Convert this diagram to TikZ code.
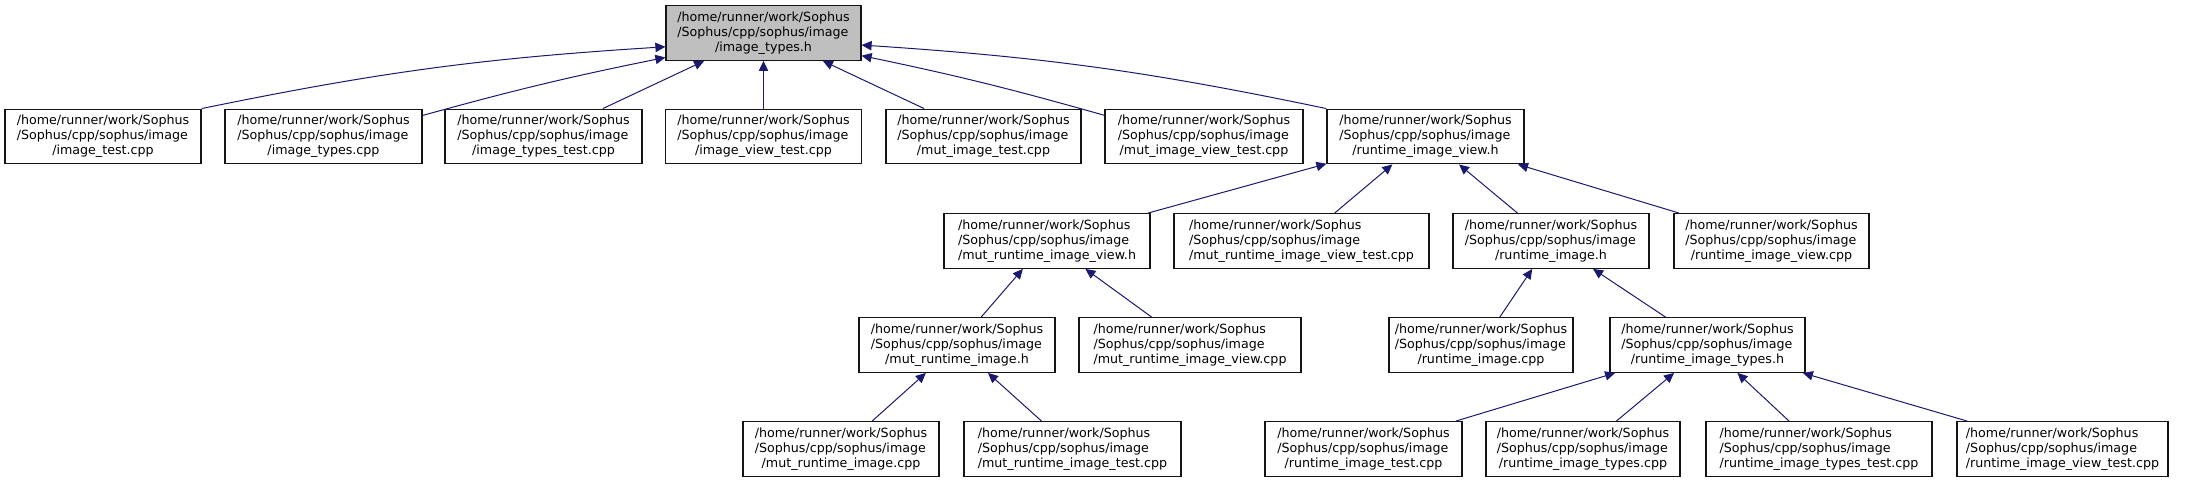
\documentclass[tikz,border=0pt]{standalone}
\usepackage{fontspec}
\setmainfont{DejaVu Sans}
\usepackage{tikz}
\usetikzlibrary{arrows.meta}
\definecolor{cEdge}{RGB}{25,25,112}
\definecolor{cRoot}{RGB}{191,191,191}
\definecolor{cLine}{RGB}{20,20,20}
\newcommand{\srcfile}[1]{\begin{tabular}{@{}l@{}}/home/runner/work/Sophus\\/Sophus/cpp/sophus/image\\\multicolumn{1}{@{}c@{}}{/#1}\end{tabular}}
\tikzset{
  srcbox/.style={draw=cLine, line width=0.9pt, fill=white, minimum width=#1*0.75pt,
    minimum height=41pt, inner sep=0pt, font=\fontsize{9.5}{11.25}\selectfont},
  dep/.style={draw=cEdge, line width=0.75pt, -{Triangle[length=7.5pt,width=7pt]}, cEdge}
}

\begin{document}
\begin{tikzpicture}[x=0.75pt,y=-0.75pt]
\useasboundingbox (0,0) rectangle (2185,483);
% top header
\node[srcbox=195,fill=cRoot] (root) at (763.5,33) {\srcfile{image\_types.h}};
% row 1
\node[srcbox=196] (a1) at (103,136.5) {\srcfile{image\_test.cpp}};
\node[srcbox=197] (a2) at (323.5,136.5) {\srcfile{image\_types.cpp}};
\node[srcbox=197] (a3) at (543.5,136.5) {\srcfile{image\_types\_test.cpp}};
\node[srcbox=196] (a4) at (763.5,136.5) {\srcfile{image\_view\_test.cpp}};
\node[srcbox=195] (a5) at (983.5,136.5) {\srcfile{mut\_image\_test.cpp}};
\node[srcbox=198] (a6) at (1204,136.5) {\srcfile{mut\_image\_view\_test.cpp}};
\node[srcbox=197] (a7) at (1425.5,136.5) {\srcfile{runtime\_image\_view.h}};
% row 2
\node[srcbox=206] (b1) at (1047,241) {\srcfile{mut\_runtime\_image\_view.h}};
\node[srcbox=255] (b2) at (1301.5,241) {\srcfile{mut\_runtime\_image\_view\_test.cpp}};
\node[srcbox=196] (b3) at (1551,241) {\srcfile{runtime\_image.h}};
\node[srcbox=195] (b4) at (1771.5,241) {\srcfile{runtime\_image\_view.cpp}};
% row 3
\node[srcbox=196] (c1) at (957,345) {\srcfile{mut\_runtime\_image.h}};
\node[srcbox=222] (c2) at (1190,345) {\srcfile{mut\_runtime\_image\_view.cpp}};
\node[srcbox=184] (c3) at (1481,345) {\srcfile{runtime\_image.cpp}};
\node[srcbox=195] (c4) at (1707.5,345) {\srcfile{runtime\_image\_types.h}};
% row 4
\node[srcbox=196] (d1) at (841,449) {\srcfile{mut\_runtime\_image.cpp}};
\node[srcbox=217] (d2) at (1072.5,449) {\srcfile{mut\_runtime\_image\_test.cpp}};
\node[srcbox=197] (d3) at (1363.5,449) {\srcfile{runtime\_image\_test.cpp}};
\node[srcbox=194] (d4) at (1583,449) {\srcfile{runtime\_image\_types.cpp}};
\node[srcbox=226] (d5) at (1819,449) {\srcfile{runtime\_image\_types\_test.cpp}};
\node[srcbox=211] (d6) at (2062.5,449) {\srcfile{runtime\_image\_view\_test.cpp}};
% includes
\draw[dep] (a1.north east) to[bend left=4] (root.188);
\draw[dep] (a2.12) to[bend left=2] (root.194);
\draw[dep] (a3) -- (root);
\draw[dep] (a4) -- (root);
\draw[dep] (a5) -- (root);
\draw[dep] (a6.168) to[bend right=2] (root.-13);
\draw[dep] (a7.north west) to[bend right=4] (root.-7);
\draw[dep] (b1) -- (a7);
\draw[dep] (b2) -- (a7);
\draw[dep] (b3) -- (a7);
\draw[dep] (b4) -- (a7);
\draw[dep] (c1) -- (b1);
\draw[dep] (c2) -- (b1);
\draw[dep] (c3) -- (b3);
\draw[dep] (c4) -- (b3);
\draw[dep] (d1) -- (c1);
\draw[dep] (d2) -- (c1);
\draw[dep] (d3) -- (c4);
\draw[dep] (d4) -- (c4);
\draw[dep] (d5) -- (c4);
\draw[dep] (d6) -- (c4);
\end{tikzpicture}
\end{document}
